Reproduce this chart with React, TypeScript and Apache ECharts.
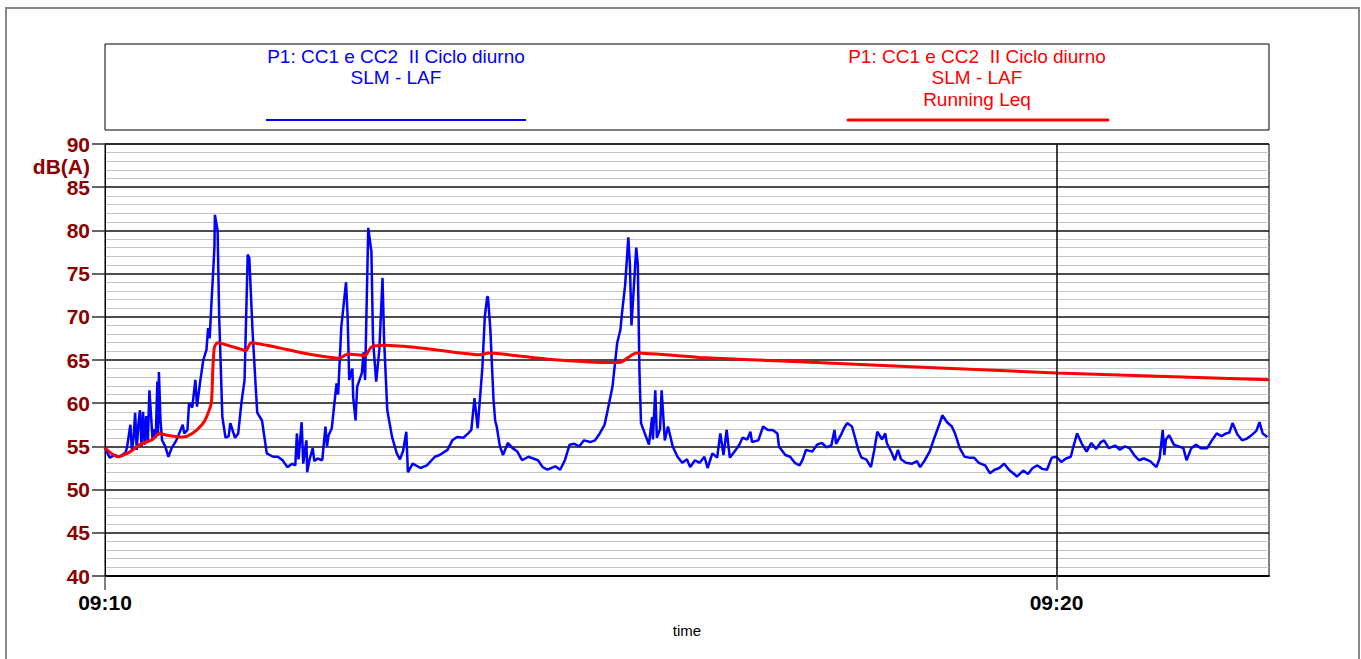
import React, { useEffect, useRef } from "react";
import * as echarts from "echarts";

// time in seconds after 09:10:00
const blueT = [0, 3, 6, 9, 13, 14, 16, 17, 18, 19, 20, 21, 22, 23, 24, 25, 26, 27, 28, 30, 31, 32, 33, 33.4, 34, 35, 36, 38, 40, 42, 45, 49, 50, 52, 53, 55, 57, 58, 60, 62, 64, 65, 66, 67, 69, 69.3, 71, 72, 74, 76, 78, 79, 82, 84, 86, 88, 90, 91, 93, 95, 96, 99, 102, 106, 109, 112, 115, 118, 120, 121, 122, 124, 125, 127, 127.5, 129, 131, 132, 134, 137, 139, 140, 141, 143, 145, 146, 147, 149, 152, 153, 154, 156, 156.5, 158, 159, 162, 163, 164, 166, 168, 169, 171, 173, 175, 176, 178, 181, 184, 186, 188, 190, 191, 194, 199, 203, 208, 211, 216, 219, 222, 226, 229, 231, 233, 235, 238, 239.5, 241, 241.5, 243, 245, 246, 247, 249, 251, 254, 257, 260, 263, 267, 270, 273, 276, 279, 284, 287, 290, 293, 296, 299, 302, 306, 309, 312, 315, 317, 320, 323, 325, 326, 328, 330, 331, 332, 333, 335, 336, 337, 338, 342, 343, 345, 345.5, 347, 348, 350, 351, 353, 355, 358, 361, 364, 367, 369, 372, 375, 378, 380, 383, 386, 388, 390, 392, 394, 397, 400, 402, 405, 407, 408, 412, 415, 418, 421, 424, 425, 429, 432, 435, 438, 440, 442, 446, 449, 452, 455, 458, 460, 461, 464, 466, 468, 471, 473, 475, 477, 480, 483, 485, 487, 490, 492, 493, 496, 498, 500, 502, 505, 509, 512, 514, 517, 520, 523, 526, 528, 531, 534, 536, 539, 542, 545, 548, 551, 555, 558, 561, 564, 567, 570, 574, 575, 579, 582, 585, 588, 591, 594, 597, 600, 603, 606, 609, 611, 613, 616, 619, 622, 625, 628, 630, 633, 637, 640, 643, 646, 649, 652, 655, 659, 663, 665, 667, 668, 669, 671, 674, 677, 680, 682, 685, 688, 691, 695, 698, 701, 704, 707, 709, 711, 714, 717, 720, 723, 726, 728, 730, 733];
const blueV = [54.8, 53.7, 54.0, 53.8, 54.3, 55.0, 57.5, 54.5, 56.0, 58.9, 54.6, 57.5, 59.2, 55.0, 59.0, 55.2, 58.5, 55.5, 61.5, 55.8, 57.0, 56.0, 62.5, 56.2, 63.6, 58.0, 55.7, 55.0, 53.8, 54.8, 55.7, 57.5, 56.5, 56.9, 60.0, 59.5, 62.7, 59.6, 62.5, 65.0, 66.2, 68.7, 67.5, 71.1, 78.0, 81.8, 80.0, 70.0, 58.4, 56.0, 56.2, 57.7, 56.0, 56.5, 60.0, 62.7, 77.2, 76.8, 68.5, 62.0, 58.9, 58.0, 54.2, 53.8, 53.8, 53.4, 52.6, 53.0, 52.8, 56.5, 53.5, 57.8, 53.0, 55.7, 52.0, 53.5, 54.8, 53.3, 53.6, 53.4, 57.3, 55.0, 56.3, 57.1, 60.6, 62.3, 61.0, 68.8, 74.0, 70.0, 62.7, 64.0, 60.7, 58.0, 61.9, 63.5, 65.9, 62.7, 80.3, 77.5, 67.3, 62.5, 66.2, 74.5, 67.3, 59.2, 56.1, 54.2, 53.5, 54.5, 56.7, 52.0, 53.0, 52.5, 52.8, 53.8, 54.0, 54.6, 55.7, 56.1, 56.0, 56.5, 56.9, 60.6, 57.1, 64.2, 70.0, 72.3, 72.3, 68.5, 60.4, 58.0, 57.3, 55.0, 54.0, 55.4, 54.8, 54.4, 53.4, 53.8, 53.6, 53.4, 52.6, 52.3, 52.7, 52.3, 53.4, 55.2, 55.3, 55.0, 55.7, 55.5, 55.7, 56.5, 57.5, 59.2, 61.9, 67.0, 68.5, 70.4, 73.7, 79.2, 76.0, 69.0, 72.0, 78.0, 76.0, 63.8, 57.7, 55.7, 55.2, 58.4, 55.8, 61.5, 56.0, 57.0, 61.5, 55.7, 57.3, 55.0, 53.8, 53.1, 53.5, 52.6, 53.4, 53.1, 53.8, 52.5, 54.2, 53.7, 56.5, 54.0, 56.9, 53.7, 54.4, 55.2, 56.0, 55.8, 56.7, 55.5, 55.7, 57.3, 56.9, 56.9, 56.5, 55.0, 54.0, 53.8, 53.1, 52.8, 53.5, 54.6, 54.4, 55.2, 55.4, 54.9, 55.1, 56.9, 55.3, 56.3, 57.1, 57.7, 57.3, 56.0, 54.6, 53.7, 53.5, 52.6, 54.5, 56.7, 55.8, 56.5, 55.4, 54.3, 53.4, 54.6, 53.5, 53.1, 53.0, 53.3, 52.6, 53.4, 54.4, 56.0, 57.5, 58.6, 57.8, 57.3, 56.5, 54.8, 53.8, 53.7, 53.7, 53.1, 52.8, 51.9, 52.3, 52.5, 53.0, 52.3, 51.7, 51.5, 52.2, 51.8, 52.5, 52.8, 52.4, 52.3, 53.7, 53.8, 53.2, 53.6, 53.8, 55.2, 56.5, 55.3, 54.4, 55.4, 54.7, 55.5, 55.7, 54.8, 55.1, 54.6, 55.0, 54.8, 54.0, 53.4, 53.6, 53.3, 52.6, 53.6, 56.9, 54.0, 55.8, 56.3, 55.2, 55.0, 54.8, 53.4, 54.8, 55.2, 54.8, 54.8, 55.7, 56.5, 56.2, 56.5, 56.6, 57.7, 56.4, 55.7, 55.9, 56.3, 56.8, 57.8, 56.5, 56.1];

const redT = [0, 8, 16, 22, 30, 34, 39, 47, 52, 58, 63, 67, 68, 69, 71, 81, 89, 92, 102, 110, 131, 148, 153, 164, 168, 176, 199, 236, 242, 279, 320, 326, 330, 335, 375, 438, 600, 734];
const redV = [54.8, 53.8, 54.4, 55.2, 55.8, 56.5, 56.3, 56.1, 56.2, 56.9, 58.0, 60.0, 64.0, 66.5, 67.0, 66.5, 66.1, 67.0, 66.7, 66.4, 65.6, 65.2, 65.7, 65.5, 66.5, 66.7, 66.4, 65.6, 65.8, 65.1, 64.7, 64.8, 65.3, 65.8, 65.3, 64.8, 63.5, 62.7];

const xTickValues = [0, 600];
const xTickLabels = ["09:10", "09:20"];
const xMax = 734;

const legendLines1 = ["P1: CC1 e CC2  II Ciclo diurno", "SLM - LAF"];
const legendLines2 = ["P1: CC1 e CC2  II Ciclo diurno", "SLM - LAF", "Running Leq"];

const FONT = "'Liberation Sans', Arial, sans-serif";

export default function App() {
  const ref = useRef<HTMLDivElement>(null);
  useEffect(() => {
    if (!ref.current) return;
    const chart = echarts.init(ref.current, null, { renderer: "svg" });
    const blue = blueT.map((t, i) => [t, blueV[i]]);
    const red = redT.map((t, i) => [t, redV[i]]);

    const legendText = (lines: string[], cx: number, color: string) =>
      lines.map((s, i) => ({
        type: "text",
        x: cx,
        y: 56 + i * 21.5,
        style: { text: s, fill: color, font: `19px ${FONT}`, align: "center", verticalAlign: "middle" },
      }));

    chart.setOption({
      animation: false,
      grid: { left: 105, top: 144, right: 92, bottom: 83, show: true, borderColor: "#000", borderWidth: 1, backgroundColor: "transparent" },
      xAxis: {
        type: "value",
        min: 0,
        max: xMax,
        interval: 600,
        name: "time",
        nameLocation: "middle",
        nameGap: 47,
        nameTextStyle: { color: "#000", fontSize: 15, fontFamily: FONT },
        axisLine: { show: true, lineStyle: { color: "#000", width: 2 } },
        axisTick: { show: true, length: 14, customValues: xTickValues, lineStyle: { color: "#555", width: 1.5 } },
        axisLabel: {
          customValues: xTickValues,
          margin: 16,
          color: "#000",
          fontSize: 21,
          fontWeight: "bold",
          fontFamily: FONT,
          formatter: (v: number) => {
            const i = xTickValues.indexOf(v);
            return i >= 0 ? xTickLabels[i] : "";
          },
        },
        splitLine: { show: false },
      },
      yAxis: {
        type: "value",
        min: 40,
        max: 90,
        interval: 5,
        axisLine: { show: true, lineStyle: { color: "#000", width: 1 } },
        axisTick: { show: true, length: 13, lineStyle: { color: "#333", width: 1.5 } },
        axisLabel: { margin: 15, color: "#8b0000", fontSize: 21, fontWeight: "bold", fontFamily: FONT },
        splitLine: { show: true, lineStyle: { color: "#111", width: 1.5 } },
        minorTick: { show: false, splitNumber: 5 },
        minorSplitLine: { show: true, lineStyle: { color: "#c4c4c4", width: 1 } },
      },
      series: [
        {
          type: "line",
          data: [],
          z: 1,
          silent: true,
          markLine: {
            silent: true,
            symbol: "none",
            label: { show: false },
            lineStyle: { color: "#000", width: 1.5, type: "solid" },
            data: [{ xAxis: 600 }],
          },
        },
        {
          name: "LAF",
          type: "line",
          data: blue,
          showSymbol: false,
          z: 3,
          lineStyle: { color: "#0000ff", width: 2.5 },
          itemStyle: { color: "#0000ff" },
        },
        {
          name: "Running Leq",
          type: "line",
          data: red,
          showSymbol: false,
          smooth: 0.2,
          z: 4,
          lineStyle: { color: "#ff0000", width: 3 },
          itemStyle: { color: "#ff0000" },
        },
      ],
      graphic: [
        { type: "rect", shape: { x: 6, y: 8, width: 1353, height: 700 }, style: { fill: "none", stroke: "#888", lineWidth: 2 }, silent: true },
        { type: "rect", shape: { x: 105, y: 44, width: 1164, height: 86 }, style: { fill: "#fff", stroke: "#000", lineWidth: 1 }, silent: true },
        ...legendText(legendLines1, 396, "#0000ff"),
        ...legendText(legendLines2, 977, "#ff0000"),
        { type: "line", shape: { x1: 266, y1: 120, x2: 526, y2: 120 }, style: { stroke: "#0000ff", lineWidth: 2 } },
        { type: "line", shape: { x1: 848, y1: 120, x2: 1108, y2: 120 }, style: { stroke: "#ff0000", lineWidth: 3, lineCap: "round" } },
        {
          type: "text",
          x: 90,
          y: 166,
          style: { text: "dB(A)", fill: "#8b0000", font: `bold 21px ${FONT}`, align: "right", verticalAlign: "middle" },
        },
      ],
    });
    return () => chart.dispose();
  }, []);
  return <div ref={ref} style={{ position: "fixed", left: 0, top: 0, width: 1361, height: 659, background: "#fff" }} />;
}
